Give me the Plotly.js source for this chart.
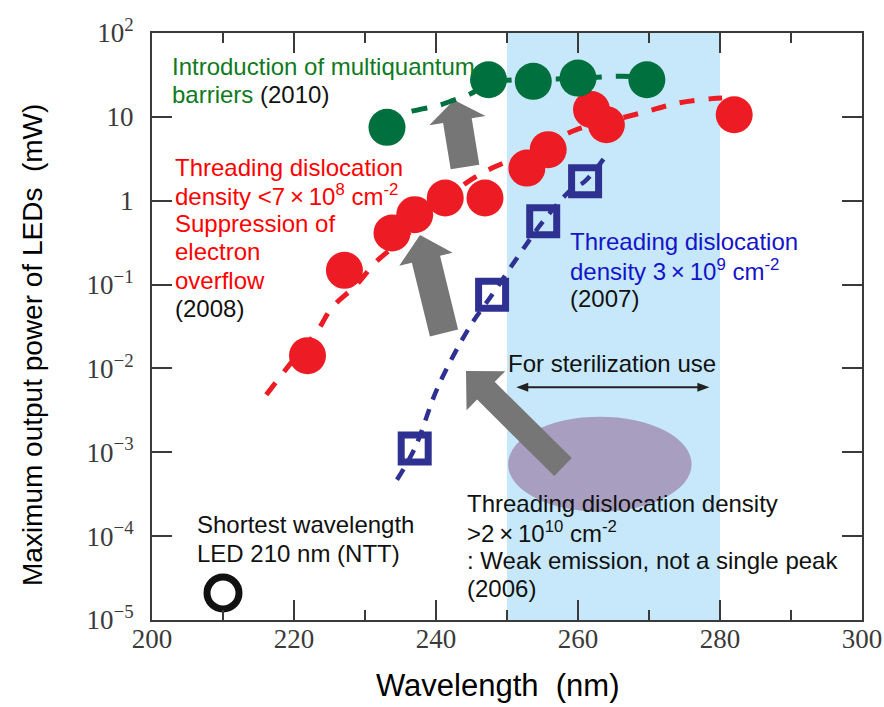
<!DOCTYPE html>
<html><head><meta charset="utf-8">
<script src="https://cdn.plot.ly/plotly-3.0.1.min.js"></script>
<style>html,body{margin:0;padding:0;background:#fff}#chart{width:884px;height:707px}</style>
</head><body><div id="chart"></div>
<script>
// ---------- data ----------
const greenX = [233.1, 247.4, 253.7, 260.0, 269.7];
const greenY = [7.5, 27.7, 26.5, 29.0, 27.7];
const greenFitX = [233.1, 235, 237.6, 240, 242.4, 244.8, 247.4, 250, 254, 260, 266, 270];
const greenFitY = [7.5, 10.5, 12.2, 13.4, 15.7, 18.7, 25, 27.3, 28, 28.8, 30.5, 29.5];

const redX = [221.9, 227.1, 233.8, 237.0, 241.3, 246.9, 252.8, 255.8, 261.9, 264.0, 282.0];
const redY = [0.0142, 0.148, 0.412, 0.681, 1.077, 1.077, 2.45, 4.06, 12.2, 8.06, 10.6];
const redFitX = [216.1, 219.2, 223.4, 225.3, 228.8, 231.4, 233.8, 237.0, 241.2, 243.9, 247.2, 252.8, 255.7, 259.8, 264.5, 269.2, 274.1, 278.8, 280.3];
const redFitY = [0.00486, 0.0106, 0.029, 0.0526, 0.0995, 0.181, 0.273, 0.473, 0.966, 1.55, 2.29, 3.67, 4.82, 7.03, 8.93, 11.3, 14.6, 16.5, 16.8];

const blueX = [237.0, 247.9, 255.1, 261.0];
const blueY = [0.00111, 0.0757, 0.569, 1.71];
const blueFitX = [234.5, 237.0, 240.3, 244.8, 247.9, 252.5, 255.1, 259.0, 261.0, 263.8];
const blueFitY = [0.00047, 0.00111, 0.0061, 0.0318, 0.0757, 0.283, 0.569, 1.34, 1.71, 3.32];

const nttX = [210.0];
const nttY = [2.1e-5];

const xTickVals = [200, 220, 240, 260, 280, 300];
const xTickText = ['200', '220', '240', '260', '280', '300'];
const yTickVals = [1e-5, 1e-4, 1e-3, 1e-2, 1e-1, 1, 10, 100];
const yTickText = ['10<sup>\u22125</sup>', '10<sup>\u22124</sup>', '10<sup>\u22123</sup>', '10<sup>\u22122</sup>', '10<sup>\u22121</sup>', '1', '10', '10<sup>2</sup>'];

const sterilRange = [250, 280];
const sterilArrow = [251.3, 278.5];

// ---------- styling ----------
const RED = '#ed1c24', GREEN = '#00703f', NAVY = '#2e3192';
const AX = '#3a3a3a';
const W = 884, H = 707;
const M = {l: 152, r: 22, t: 33, b: 87};
const PW = W - M.l - M.r, PH = H - M.t - M.b;
const px = v => (v - M.l) / PW;
const py = v => (H - M.b - v) / PH;
const dx2px = v => M.l + (v - 200) / 100 * PW;
const SANS = 'Liberation Sans, Arial, Helvetica, sans-serif';
const SERIF = 'Liberation Serif, Times New Roman, serif';

const traces = [
  {x: redFitX, y: redFitY, mode: 'lines', hoverinfo: 'skip',
   line: {color: RED, width: 5, dash: '15px,14px', shape: 'spline'}},
  {x: greenFitX, y: greenFitY, mode: 'lines', hoverinfo: 'skip',
   line: {color: GREEN, width: 5, dash: '16px,14px', shape: 'spline'}},
  {x: blueFitX, y: blueFitY, mode: 'lines', hoverinfo: 'skip',
   line: {color: NAVY, width: 4.5, dash: '12px,10px', shape: 'spline'}},
  {x: redX, y: redY, mode: 'markers', marker: {symbol: 'circle', size: 37, color: RED}},
  {x: greenX, y: greenY, mode: 'markers', marker: {symbol: 'circle', size: 37, color: GREEN}},
  {x: blueX, y: blueY, mode: 'markers',
   marker: {symbol: 'square-open', size: 27, color: NAVY, line: {width: 7, color: NAVY}}},
  {x: nttX, y: nttY, mode: 'markers',
   marker: {symbol: 'circle-open', size: 32, color: '#111', line: {width: 7, color: '#111'}}}
];

function toPath(pts) {
  return 'M' + pts.map(p => px(p[0]).toFixed(5) + ',' + py(p[1]).toFixed(5)).join(' L') + ' Z';
}
// block arrows (pixel geometry -> paper path)
function arrowPath(tail, tip, shaftW, headW, headL) {
  const dx = tip[0] - tail[0], dy = tip[1] - tail[1];
  const L = Math.hypot(dx, dy), ux = dx / L, uy = dy / L, nx = -uy, ny = ux;
  const bx = tip[0] - ux * headL, by = tip[1] - uy * headL;
  return toPath([
    [tail[0] + nx * shaftW / 2, tail[1] + ny * shaftW / 2],
    [bx + nx * shaftW / 2, by + ny * shaftW / 2],
    [bx + nx * headW / 2, by + ny * headW / 2],
    tip,
    [bx - nx * headW / 2, by - ny * headW / 2],
    [bx - nx * shaftW / 2, by - ny * shaftW / 2],
    [tail[0] - nx * shaftW / 2, tail[1] - ny * shaftW / 2]
  ]);
}
const arrowDefs = [
  [[465, 167], [454, 100], 29, 57, 21],
  [[444, 333], [420, 235], 29, 55, 25],
  [[563, 467], [466, 371], 25, 55, 28]
];
const arrYpx = 387.3;
const aL = dx2px(sterilArrow[0]), aR = dx2px(sterilArrow[1]);

const shapes = [
  {type: 'rect', xref: 'x', yref: 'paper', x0: sterilRange[0], x1: sterilRange[1], y0: 0, y1: 1,
   fillcolor: '#c6e8fa', line: {width: 0}, layer: 'below'},
  {type: 'circle', xref: 'x', yref: 'paper', x0: 250.15, x1: 276.0, y0: py(511.7), y1: py(416.7),
   fillcolor: '#a89fc0', line: {width: 0}, layer: 'below'}
].concat(arrowDefs.map(a => ({type: 'path', xref: 'paper', yref: 'paper', path: arrowPath(...a),
   fillcolor: '#767676', line: {width: 0}, layer: 'below'})))
 .concat([
  {type: 'line', xref: 'paper', yref: 'paper', x0: px(aL + 6), x1: px(aR - 6), y0: py(arrYpx), y1: py(arrYpx),
   line: {color: '#222', width: 2}},
  {type: 'path', xref: 'paper', yref: 'paper', path: toPath([[aL, arrYpx], [aL + 12, arrYpx - 4.5], [aL + 12, arrYpx + 4.5]]),
   fillcolor: '#222', line: {width: 0}},
  {type: 'path', xref: 'paper', yref: 'paper', path: toPath([[aR, arrYpx], [aR - 12, arrYpx - 4.5], [aR - 12, arrYpx + 4.5]]),
   fillcolor: '#222', line: {width: 0}}
 ]);

// text blocks: [left px, [baselines], [lines], color]
const BLK = '#111';
const blocks = [
  [170, [74.7, 103], ['Introduction of multiquantum', 'barriers <span style="color:#111">(2010)</span>'], '#0f7a22'],
  [173, [175.7, 203.7, 232, 260.3, 289, 316.3],
   ['Threading dislocation', 'density &lt;7\u2009\u00d7\u200910<sup>8</sup> cm<sup>-2</sup>', 'Suppression of', 'electron', 'overflow',
    '<span style="color:#111">(2008)</span>'], '#ff0000'],
  [568, [249.7, 278.7, 306.3],
   ['Threading dislocation', 'density 3\u2009\u00d7\u200910<sup>9</sup> cm<sup>-2</sup>', '<span style="color:#111">(2007)</span>'], '#1414c8'],
  [506, [371.7], ['For sterilization use'], BLK],
  [465, [511.7, 540, 568.3, 596.7],
   ['Threading dislocation density', '&gt;2\u2009\u00d7\u200910<sup>10</sup> cm<sup>-2</sup>', ': Weak emission, not a single peak', '(2006)'], BLK],
  [195, [532.7, 561.7], ['Shortest wavelength', 'LED 210 nm (NTT)'], BLK]
];
const annotations = [];
blocks.forEach(b => {
  b[2].forEach((t, i) => {
    annotations.push({xref: 'paper', yref: 'paper', x: px(b[0]), y: py(b[1][i] - 8.3),
      xanchor: 'left', yanchor: 'middle', showarrow: false, text: t,
      font: {family: SANS, size: 24, color: b[3]}});
  });
});
// axis titles
annotations.push({xref: 'paper', yref: 'paper', x: px(498), y: py(685), xanchor: 'center', yanchor: 'middle',
  showarrow: false, text: 'Wavelength\u00a0\u00a0(nm)', font: {family: SANS, size: 31, color: '#000'}});
annotations.push({xref: 'paper', yref: 'paper', x: px(32), y: py(345), xanchor: 'center', yanchor: 'middle',
  showarrow: false, textangle: -90, text: 'Maximum output power of LEDs\u00a0\u00a0(mW)', font: {family: SANS, size: 28, color: '#000'}});

const layout = {
  width: W, height: H, margin: M, showlegend: false,
  paper_bgcolor: '#fff', plot_bgcolor: '#fff',
  xaxis: {range: [200, 300], tickmode: 'array', tickvals: xTickVals, ticktext: xTickText,
    ticks: 'inside', ticklen: 20, tickwidth: 2, tickcolor: AX,
    showline: true, linecolor: AX, linewidth: 2, mirror: 'ticks', showgrid: false, zeroline: false,
    tickfont: {family: SERIF, size: 27, color: '#3a3a3a'}, ticklabelstandoff: -6,
    minor: {tickmode: 'linear', tick0: 200, dtick: 10, ticks: 'inside', ticklen: 10, tickwidth: 2, tickcolor: AX, showgrid: false}},
  yaxis: {type: 'log', range: [-5, 2], tickmode: 'array', tickvals: yTickVals, ticktext: yTickText,
    ticks: 'inside', ticklen: 20, tickwidth: 2, tickcolor: AX,
    showline: true, linecolor: AX, linewidth: 2, mirror: 'ticks', showgrid: false, zeroline: false,
    tickfont: {family: SERIF, size: 27, color: '#3a3a3a'}, ticklabelstandoff: 11},
  shapes: shapes, annotations: annotations
};
Plotly.newPlot('chart', traces, layout, {displayModeBar: false, staticPlot: true});
</script></body></html>
